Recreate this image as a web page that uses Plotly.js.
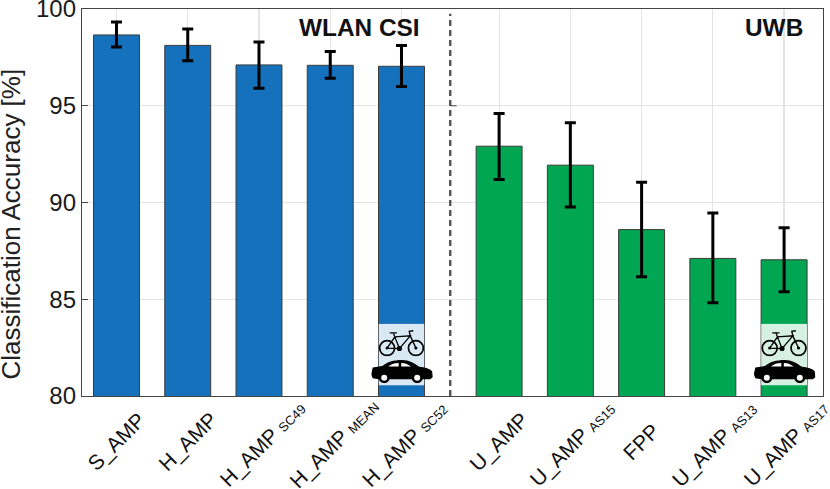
<!DOCTYPE html>
<html><head><meta charset="utf-8">
<script src="https://cdn.plot.ly/plotly-3.0.1.min.js"></script>
<style>html,body{margin:0;padding:0;background:#fff}</style></head>
<body><div id="chart" style="width:830px;height:489px"></div>
<script>
var wlanPositions = [1, 2, 3, 4, 5];
var uwbPositions = [6.37, 7.37, 8.37, 9.37, 10.37];
var wlanLabels = ['S_AMP', 'H_AMP', 'H_AMP', 'H_AMP', 'H_AMP'];
var wlanSubs = ['', '', 'SC49', 'MEAN', 'SC52'];
var uwbLabels = ['U_AMP', 'U_AMP', 'FPP', 'U_AMP', 'U_AMP'];
var uwbSubs = ['', 'AS15', '', 'AS13', 'AS17'];
var wlanValues = [98.66, 98.12, 97.11, 97.09, 97.04];
var wlanErrUp = [0.67, 0.85, 1.19, 0.72, 1.08];
var wlanErrDown = [0.62, 0.80, 1.21, 0.67, 1.04];
var uwbValues = [92.91, 91.93, 88.60, 87.11, 87.04];
var uwbErrUp = [1.69, 2.19, 2.45, 2.35, 1.65];
var uwbErrDown = [1.72, 2.16, 2.44, 2.29, 1.65];
var yTicks = [80, 85, 90, 95, 100];
var dividerX = 5.684;
var FONT = 'Liberation Sans, Arial, sans-serif';

function bars(x, y, up, down, color, name) {
  return {type:'bar', name:name, x:x, y:y, width:0.645,
    marker:{color:color, line:{color:'#3c3c3c', width:1}},
    error_y:{type:'data', symmetric:false, array:up, arrayminus:down, color:'#000', thickness:3, width:5.5}};
}
var bike = '<svg xmlns="http://www.w3.org/2000/svg" viewBox="0 0 90 54">'+
 '<g fill="none" stroke="#000"><circle cx="17" cy="37" r="14.5" stroke-width="3.4"/><circle cx="73" cy="37" r="14.5" stroke-width="3.4"/>'+
 '<path d="M17 37 L32 15 L62 13 L41 38 Z M32 15 L41 38 M62 13 L73 37 M62 13 L60 4 L68 3 M32 15 L29 7 M22 7 L36 7" stroke-width="2.6"/></g>'+
 '<circle cx="41" cy="38" r="5" fill="#000"/><circle cx="17" cy="37" r="3" fill="#000"/><circle cx="73" cy="37" r="3" fill="#000"/></svg>';
var car = '<svg xmlns="http://www.w3.org/2000/svg" viewBox="0 0 124 46">'+
 '<path fill="#000" d="M3 15 L22 12 C32 4 44 0 62 0 C76 0 86 6 95 13 C108 15 118 17 122 23 L123 34 L118 38 L103 38 L38 38 L15 38 L3 36 L0 28 Z"/>'+
 '<path fill="#fff" d="M34 13 C40 8 47 6 55 6 L55 13 Z M60 6 C69 6 74 9 80 13 L60 13 Z"/>'+
 '<circle cx="26" cy="35" r="11" fill="#000"/><circle cx="26" cy="35" r="6" fill="#fff"/>'+
 '<circle cx="92" cy="35" r="11" fill="#000"/><circle cx="92" cy="35" r="6" fill="#fff"/></svg>';
function panel(c){return '<svg xmlns="http://www.w3.org/2000/svg" viewBox="0 0 10 10" preserveAspectRatio="none"><rect width="10" height="10" fill="'+c+'"/></svg>';}
function uri(s){return 'data:image/svg+xml;charset=utf-8,'+encodeURIComponent(s);}

var overlayCenters = [wlanPositions[4], uwbPositions[4]];
var shapes = [];
shapes.push({type:'line', xref:'x', yref:'y', x0:dividerX, x1:dividerX, y0:80, y1:99.75,
  line:{color:'#555', width:2.4, dash:'6px,4px'}});
shapes.push({type:'line', xref:'x', yref:'y', x0:dividerX, x1:dividerX+0.09, y0:95, y1:95,
  line:{color:'#444', width:1}});

var images = [];
overlayCenters.forEach(function(c, i){
  images.push({source:uri(panel(['#d9e9f4','#d6f0e2'][i])), xref:'x', yref:'y', x:c, y:83.74, sizex:0.645, sizey:3.2,
    xanchor:'center', yanchor:'top', sizing:'stretch', layer:'above'});
  images.push({source:uri(bike), xref:'x', yref:'y', x:c, y:83.45, sizex:0.65, sizey:1.42,
    xanchor:'center', yanchor:'top', sizing:'stretch', layer:'above'});
  images.push({source:uri(car), xref:'x', yref:'y', x:c+0.01, y:81.86, sizex:0.87, sizey:1.2,
    xanchor:'center', yanchor:'top', sizing:'stretch', layer:'above'});
});

var annotations = [];
function addLabels(pos, labels, subs, subOff, plainOff){
  pos.forEach(function(p, i){
    var t = labels[i] + (subs[i] ? ' <span style="font-size:13px">'+subs[i]+'</span>' : '');
    var off = subs[i] ? subOff : plainOff;
    var yc = subs[i] ? 445 : 442.5;
    annotations.push({text:t, xref:'x', yref:'paper', x:p, y:(396.5-yc)/388, xshift:off,
      showarrow:false, textangle:-45, xanchor:'center', yanchor:'middle',
      font:{family:FONT, size:21, color:'#111'}});
  });
}
addLabels(wlanPositions, wlanLabels, wlanSubs, 4, 0);
addLabels(uwbPositions, uwbLabels, uwbSubs, 2.5, 0);
annotations.push({text:'<b>WLAN CSI</b>', xref:'paper', yref:'paper', x:(422-81.5)/741.5, y:(396.5-27.5)/388,
  xanchor:'right', yanchor:'middle', showarrow:false, font:{family:FONT, size:24.4, color:'#111'}});
annotations.push({text:'<b>UWB</b>', xref:'paper', yref:'paper', x:(805-81.5)/741.5, y:(396.5-27.5)/388,
  xanchor:'right', yanchor:'middle', showarrow:false, font:{family:FONT, size:24.4, color:'#111'}});
annotations.push({text:'Classification Accuracy [%]', xref:'paper', yref:'paper', x:(10-81.5)/741.5, y:(396.5-224)/388,
  xanchor:'center', yanchor:'middle', textangle:-90, showarrow:false, font:{family:FONT, size:26, color:'#222'}});

Plotly.newPlot('chart', [
  bars(wlanPositions, wlanValues, wlanErrUp, wlanErrDown, '#1571bb', 'WLAN CSI'),
  bars(uwbPositions, uwbValues, uwbErrUp, uwbErrDown, '#00a651', 'UWB')
], {
  width:830, height:489, showlegend:false, paper_bgcolor:'#fff', plot_bgcolor:'#fff',
  margin:{l:81.5, r:7, t:8.5, b:92.5, pad:0},
  font:{family:FONT, color:'#222'},
  xaxis:{range:[0.516,10.916], tickmode:'array', tickvals:wlanPositions.concat(uwbPositions),
    showticklabels:false, ticks:'', showgrid:true, gridcolor:'#e4e4e4', gridwidth:1.2,
    showline:true, mirror:true, linecolor:'#444', linewidth:1.2, zeroline:false},
  yaxis:{range:[80,100], tickmode:'array', tickvals:yTicks, ticks:'inside', ticklen:6, tickcolor:'#444', tickwidth:1,
    tickfont:{size:24, color:'#1a1a1a'}, ticklabeloverflow:'allow', showgrid:true, gridcolor:'#e4e4e4', gridwidth:1.2,
    showline:true, mirror:true, linecolor:'#444', linewidth:1.2, zeroline:false},
  shapes:shapes, images:images, annotations:annotations
}, {displayModeBar:false, staticPlot:true});
</script></body></html>
